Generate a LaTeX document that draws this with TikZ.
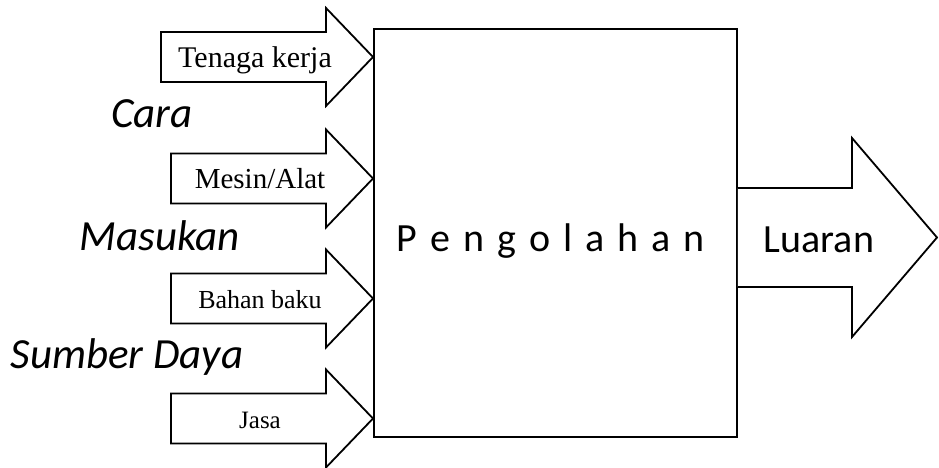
\documentclass[tikz,border=0pt]{standalone}
\usepackage{fontspec}
\setmainfont{Liberation Serif}
\newfontfamily\calib{Carlito}
\tikzset{
  blockarrow/.style={draw=black, line width=1.8pt, fill=white, line join=miter},
  mainbox/.style={draw=black, line width=1.8pt, fill=white, inner sep=0pt},
  intext/.style={anchor=base, inner sep=0pt},
  sidelabel/.style={anchor=base, inner sep=0pt, font=\calib\itshape\fontsize{43}{45}\selectfont},
}
\newcommand{\inarrow}[2]{% left x, center y
  \draw[blockarrow] (#1,#2-25) -- (326,#2-25) -- (326,#2-49) -- (373,#2) -- (326,#2+49) -- (326,#2+25) -- (#1,#2+25) -- cycle;
}
\begin{document}
\begin{tikzpicture}[x=1pt,y=-1pt]
\useasboundingbox (0,0) rectangle (939,468);
% input arrows
\inarrow{161}{57}
\inarrow{171}{178.5}
\inarrow{171}{298.5}
\inarrow{171}{418.5}
% main box
\node[mainbox, minimum width=363pt, minimum height=408pt] (box) at (555.5,233) {};
% output arrow
\draw[blockarrow] (box.east |- 0,188) -- (852,188) -- (852,138) -- (937,237.5) -- (852,337) -- (852,287) -- (box.east |- 0,287);
% texts
\node[intext, font=\fontsize{30}{32}\selectfont] (t1) at (255,68) {Tenaga kerja};
\node[intext, font=\fontsize{29}{31}\selectfont] (t2) at (260,188) {Mesin/Alat};
\node[intext, font=\fontsize{26}{28}\selectfont] (t3) at (260,308) {Bahan baku};
\node[intext, font=\fontsize{25}{27}\selectfont] (t4) at (260,428) {Jasa};
\node[sidelabel] (cara) at (152,128) {Cara};
\node[sidelabel] (masukan) at (160,250) {Masukan};
\node[sidelabel] (sumber) at (127,368) {Sumber Daya};
\node[intext, font=\calib\fontsize{40}{42}\selectfont] (proc) at (551,251) {P\hspace{13pt}e\hspace{13pt}n\hspace{13pt}g\hspace{13pt}o\hspace{13pt}l\hspace{13pt}a\hspace{13pt}h\hspace{13pt}a\hspace{13pt}n};
\node[intext, font=\calib\fontsize{40}{42}\selectfont] (out) at (819,252) {Luaran};
\end{tikzpicture}
\end{document}
